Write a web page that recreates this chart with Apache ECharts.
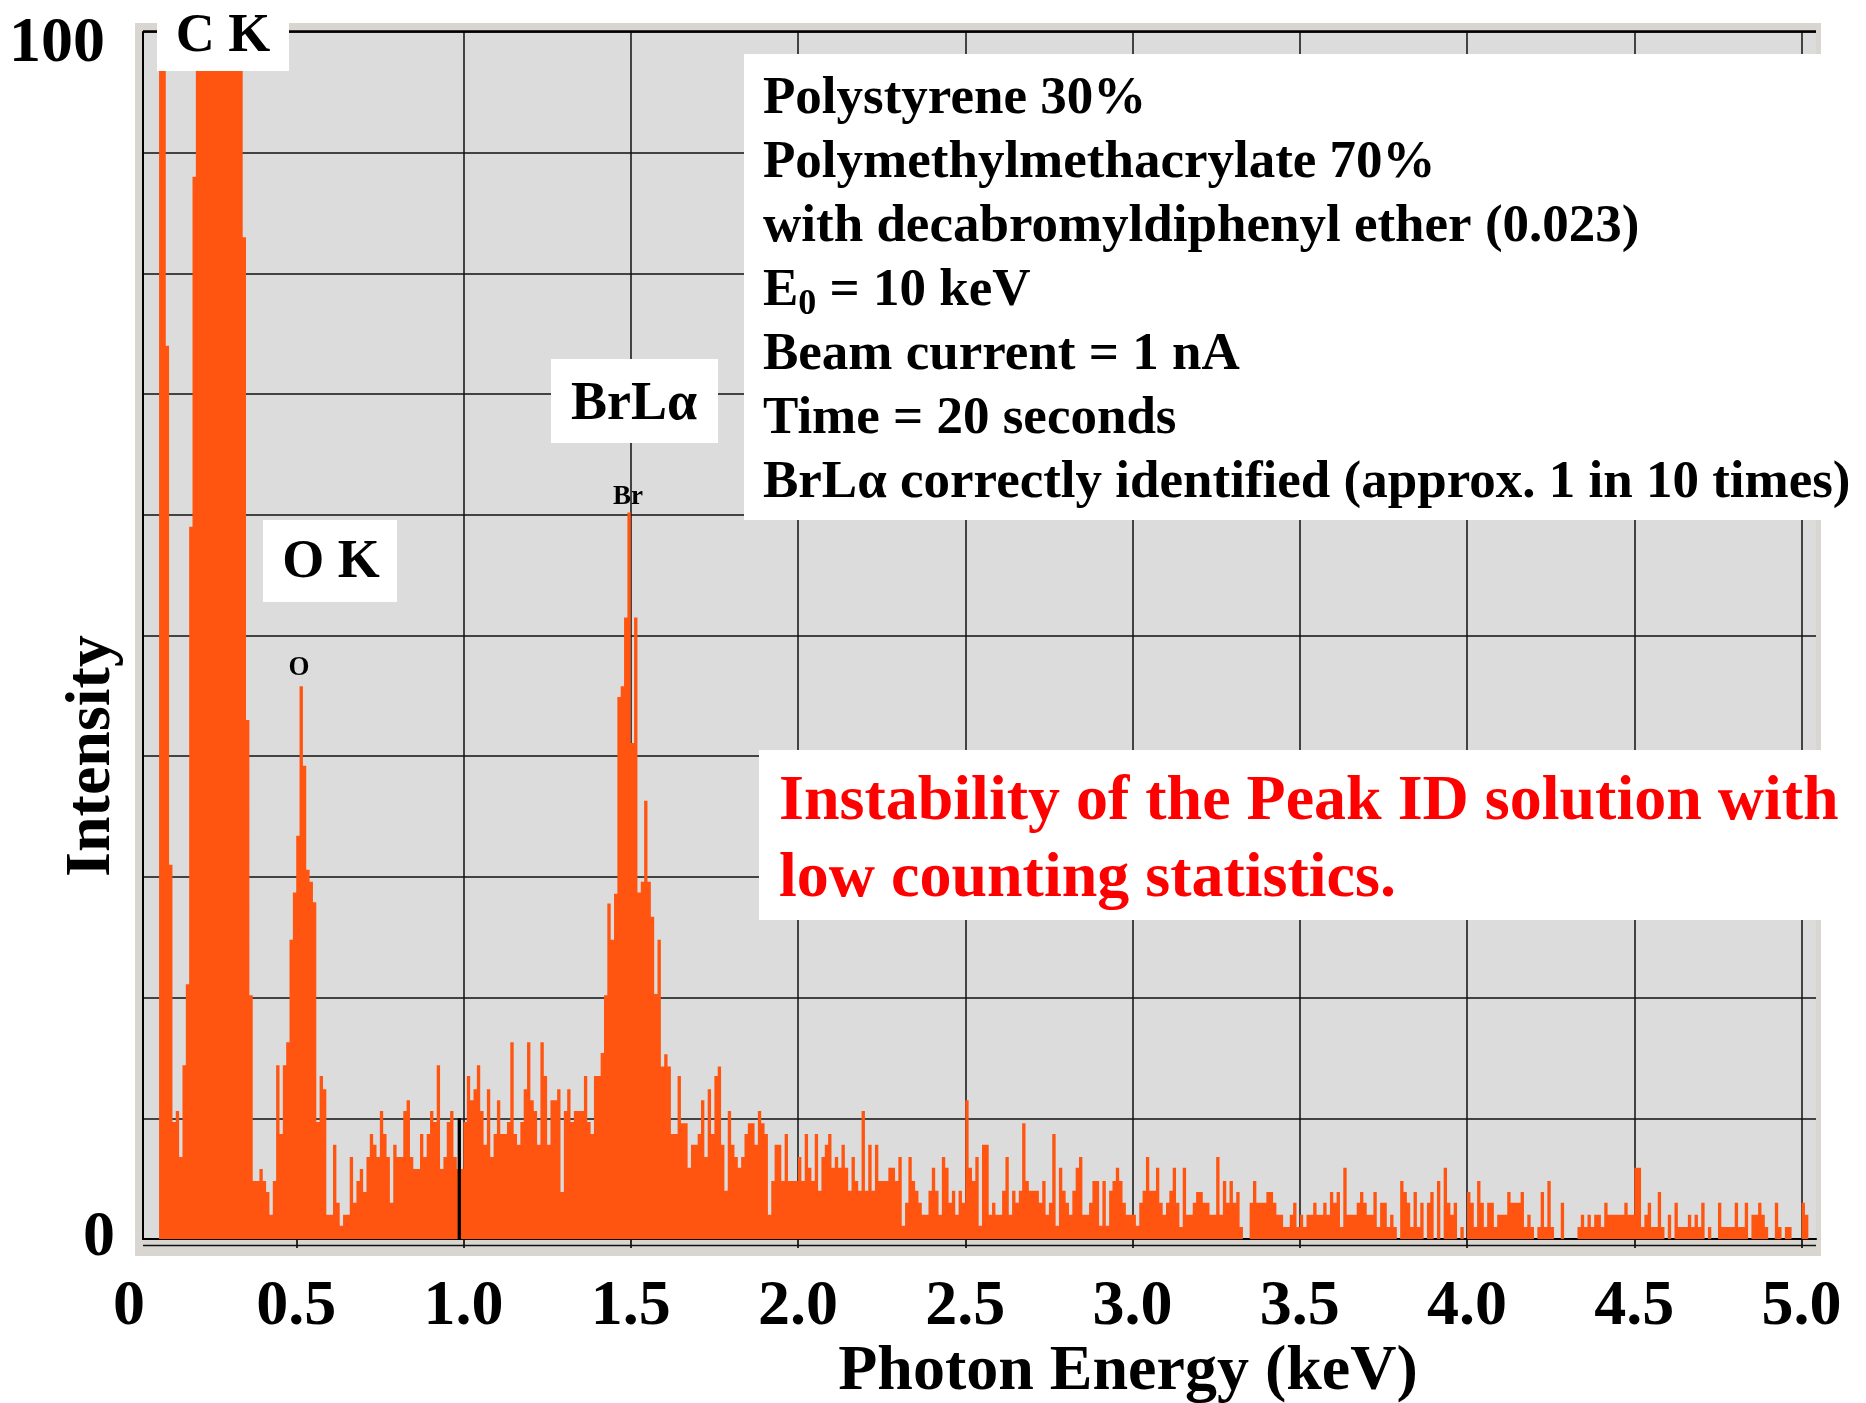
<!DOCTYPE html>
<html>
<head>
<meta charset="utf-8">
<title>EDS spectrum – PS/PMMA with decabromodiphenyl ether</title>
<script src="https://cdn.jsdelivr.net/npm/echarts@6/dist/echarts.min.js"></script>
<style>
  html, body { margin: 0; padding: 0; background: #ffffff; }
  #chart { width: 1866px; height: 1403px; }
</style>
</head>
<body>
<div id="chart"></div>
<script>
// Spectrum calibration (keV): start of the first channel and channel width
const channelStartKeV = 0.09;
const channelWidthKeV = 0.01;

// Intensity per channel (full scale = 100)
const intensity0to1keV = [
  120, 120, 74, 31, 9.7, 10.6, 6.8, 14.4, 21.1, 59,
  88, 118, 160, 220, 290, 360, 420, 455, 460, 430,
  380, 310, 240, 175, 125, 83, 43, 20.2, 4.8, 4.8,
  5.8, 4.8, 3.9, 2.0, 4.8, 14.4, 8.7, 14.4, 16.3, 24.8,
  28.7, 33.4, 45.8, 39.2, 30.6, 29.6, 27.9, 9.7, 13.5, 12.4,
  2.0, 2.0, 7.8, 3.0, 1.1, 2.0, 2.0, 6.8, 3.0, 4.8,
  5.8, 3.9, 6.8, 8.7, 7.8, 6.8, 10.6, 8.7, 6.8, 3.0,
  7.8, 6.8, 6.8, 10.6, 11.5, 6.8, 5.8, 5.8, 8.7, 6.8,
  8.7, 10.6, 9.7, 14.4, 5.8, 6.8, 9.7, 10.6, 6.8, 5.8,
  5.8, 9.7, 13.5, 11.5, 12.4, 14.4, 10.6, 7.8, 12.4, 6.8
];
const intensity1to2keV = [
  8.7, 11.5, 8.7, 8.7, 9.7, 16.3, 8.7, 7.8, 9.7, 12.4,
  16.3, 11.5, 10.6, 7.8, 16.3, 13.5, 7.8, 11.5, 11.5, 12.4,
  3.9, 10.6, 12.4, 9.7, 10.6, 10.6, 10.6, 13.5, 9.7, 8.7,
  13.5, 13.5, 15.4, 20.2, 27.8, 24.8, 28.6, 44.9, 45.8, 51.5,
  60.2, 41.1, 51.5, 28.7, 29.6, 36.3, 29.6, 26.7, 20.3, 24.8,
  14.3, 15.3, 14.3, 8.7, 8.7, 13.5, 9.6, 9.6, 5.9, 7.8,
  7.8, 8.7, 11.5, 6.8, 12.4, 8.7, 13.5, 14.3, 7.8, 4.0,
  10.6, 7.8, 6.8, 5.9, 6.8, 8.7, 9.6, 9.6, 7.8, 10.6,
  9.6, 8.7, 2.0, 4.8, 7.8, 7.8, 4.8, 8.7, 4.8, 4.8,
  4.8, 6.8, 4.8, 8.7, 5.9, 4.8, 8.7, 4.0, 6.8, 7.8
];
const intensity2to3keV = [
  8.7, 5.9, 6.8, 5.9, 7.8, 5.9, 4.0, 6.8, 4.8, 4.0,
  10.6, 4.0, 7.8, 4.0, 7.8, 4.8, 4.8, 4.8, 5.9, 5.9,
  4.8, 6.8, 1.1, 3.0, 6.8, 4.8, 4.0, 3.0, 2.0, 2.0,
  4.0, 5.9, 4.0, 2.0, 6.8, 5.9, 3.0, 4.0, 2.0, 4.0,
  3.0, 11.5, 5.9, 4.8, 6.8, 1.1, 7.8, 7.8, 2.0, 3.0,
  2.0, 2.0, 4.0, 6.8, 2.0, 4.0, 3.0, 4.0, 9.6, 4.8,
  4.0, 4.0, 4.0, 3.0, 4.8, 2.0, 3.0, 8.7, 1.1, 5.9,
  4.0, 3.0, 2.0, 4.0, 5.9, 6.8, 2.0, 2.0, 3.0, 4.8,
  4.8, 1.1, 4.8, 1.1, 4.0, 4.8, 5.9, 4.8, 3.0, 2.0,
  2.0, 2.0, 1.1, 3.0, 4.0, 6.8, 4.0, 4.0, 5.9, 3.0
];
const intensity3to4keV = [
  2.0, 3.0, 4.0, 5.9, 3.0, 1.0, 5.9, 2.0, 2.0, 3.0,
  3.9, 3.9, 3.0, 3.0, 2.0, 2.0, 6.8, 2.0, 4.8, 3.0,
  4.8, 3.0, 3.9, 1.0, 0, 0, 3.0, 4.8, 3.0, 3.0,
  3.0, 3.9, 3.9, 3.0, 2.0, 2.0, 1.0, 1.0, 2.0, 3.0,
  1.0, 2.0, 1.0, 2.0, 2.0, 3.0, 2.0, 2.0, 3.0, 2.0,
  3.9, 3.0, 3.9, 1.0, 5.9, 2.0, 2.0, 2.0, 3.0, 3.9,
  3.0, 2.0, 2.0, 3.9, 1.0, 3.0, 3.0, 1.0, 2.0, 1.0,
  0, 4.8, 3.9, 3.0, 1.0, 3.9, 1.0, 3.0, 0, 3.0,
  3.9, 0, 4.8, 0, 5.9, 3.0, 2.0, 3.0, 0, 1.0,
  0, 3.9, 3.0, 1.0, 4.8, 3.0, 1.0, 3.0, 3.0, 1.0
];
const intensity4to5keV = [
  2.0, 2.0, 2.0, 3.9, 3.0, 3.0, 3.0, 3.9, 1.0, 2.0,
  1.0, 0, 1.0, 3.9, 1.0, 4.8, 1.0, 0, 0, 3.0,
  0, 0, 0, 0, 1.0, 2.0, 1.0, 2.0, 1.0, 2.0,
  2.0, 1.0, 3.0, 2.0, 2.0, 2.0, 2.0, 2.0, 3.0, 2.0,
  2.0, 5.9, 5.9, 1.0, 2.0, 3.0, 1.0, 1.0, 3.9, 1.0,
  0, 2.0, 0, 3.0, 1.0, 1.0, 1.0, 2.0, 1.0, 2.0,
  1.0, 3.0, 0, 1.0, 0, 0, 3.0, 1.0, 1.0, 1.0,
  1.0, 3.0, 1.0, 1.0, 3.0, 0, 2.0, 2.0, 3.0, 2.0,
  1.0, 0, 0, 3.0, 1.0, 0, 1.0, 1.0, 0, 0,
  0, 3.0, 2.0, 0
];

// Energy axis tick values and their printed labels
const energyTickValues = [0, 0.5, 1.0, 1.5, 2.0, 2.5, 3.0, 3.5, 4.0, 4.5, 5.0];
const energyTickLabels = ['0', '0.5', '1.0', '1.5', '2.0', '2.5', '3.0', '3.5', '4.0', '4.5', '5.0'];
// Intensity axis labels
const intensityTickValues = [0, 100];
const intensityTickLabels = ['0', '100'];

// Cursor marker near 1 keV (energy, height)
const cursorKeV = 0.9875;
const cursorHeight = [0, 10];

// Peak identification marks placed by the software
const peakMarkLabels = ['O', 'Br'];
const peakMarkKeV = [0.508, 1.492];
const peakMarkIntensity = [47.3, 61.5];

const counts = [].concat(intensity0to1keV, intensity1to2keV, intensity2to3keV,
                         intensity3to4keV, intensity4to5keV);
const spectrum = counts.map((v, i) => [
  Math.round((channelStartKeV + i * channelWidthKeV) * 1000) / 1000, v
]);

const SERIF = '"Liberation Serif", "Times New Roman", Times, serif';
const ORANGE = '#ff5510';
const FRAME = '#d9d6d1';

function boxLabel(x, y, w, h, text, cx, cy, size, color) {
  return [
    { type: 'rect', z: 100, shape: { x: x, y: y, width: w, height: h }, style: { fill: '#ffffff' } },
    { type: 'text', z: 101, x: cx, y: cy,
      style: { text: text, fill: color || '#000000', fontSize: size, fontWeight: 'bold',
               fontFamily: SERIF, align: 'center', verticalAlign: 'middle' } }
  ];
}
function lineText(x, y, text, size, color, rich) {
  return { type: 'text', z: 101, x: x, y: y,
    style: { text: text, fill: color, fontSize: size, fontWeight: 'bold', fontFamily: SERIF,
             align: 'left', verticalAlign: 'middle', rich: rich } };
}

const chart = echarts.init(document.getElementById('chart'), null, { renderer: 'canvas' });

const infoLines = [
  'Polystyrene 30%',
  'Polymethylmethacrylate 70%',
  'with decabromyldiphenyl ether (0.023)',
  'E{sub|0}{n| = 10 keV}',
  'Beam current = 1 nA',
  'Time = 20 seconds',
  'BrL\u03b1 correctly identified (approx. 1 in 10 times)'
];
const infoRich = {
  n: { fontSize: 53, fontWeight: 'bold', fontFamily: SERIF, fill: '#000' },
  sub: { fontSize: 36, fontWeight: 'bold', fontFamily: SERIF, fill: '#000', padding: [26, 0, 0, 0] }
};

const graphics = [
  // panel border around the plotting area
  { type: 'rect', z: -1, shape: { x: 135, y: 23, width: 8, height: 1233 }, style: { fill: FRAME } },
  { type: 'rect', z: -1, shape: { x: 135, y: 23, width: 1686, height: 9 }, style: { fill: FRAME } },
  { type: 'rect', z: -1, shape: { x: 1816, y: 23, width: 5, height: 1233 }, style: { fill: FRAME } },
  { type: 'rect', z: -1, shape: { x: 135, y: 1240, width: 1686, height: 16 }, style: { fill: FRAME } },
  { type: 'line', z: 5, shape: { x1: 143, y1: 1245.5, x2: 1816, y2: 1245.5 }, style: { stroke: '#111', lineWidth: 1.6 } },
  { type: 'line', z: 5, shape: { x1: 143, y1: 31.5, x2: 1816, y2: 31.5 }, style: { stroke: '#000', lineWidth: 2.6 } }
];
graphics.push(...boxLabel(157, 0, 132, 71, 'C K', 223, 37, 54));
graphics.push(...boxLabel(263, 520, 134, 82, 'O K', 331, 563, 54));
graphics.push(...boxLabel(551, 359, 167, 84, 'BrL\u03b1', 634, 405, 54));
graphics.push({ type: 'rect', z: 100, shape: { x: 744, y: 54, width: 1122, height: 466 }, style: { fill: '#ffffff' } });
infoLines.forEach((t, i) => {
  graphics.push(lineText(763, 99 + i * 64.1, t, 53, '#000000', infoRich));
});
graphics.push({ type: 'rect', z: 100, shape: { x: 759, y: 750, width: 1107, height: 170 }, style: { fill: '#ffffff' } });
graphics.push(lineText(779, 802, 'Instability of the Peak ID solution with', 64, '#ff0000'));
graphics.push(lineText(779, 879, 'low counting statistics.', 64, '#ff0000'));
// axis titles
graphics.push({ type: 'text', z: 101, x: 1128, y: 1372,
  style: { text: 'Photon Energy (keV)', fill: '#000', fontSize: 64, fontWeight: 'bold', fontFamily: SERIF,
           align: 'center', verticalAlign: 'middle' } });
graphics.push({ type: 'text', z: 101, x: 92, y: 756, rotation: Math.PI / 2,
  style: { text: 'Intensity', fill: '#000', fontSize: 64, fontWeight: 'bold', fontFamily: SERIF,
           align: 'center', verticalAlign: 'middle' } });

const option = {
  animation: false,
  backgroundColor: '#ffffff',
  grid: [
    { left: 143, top: 32, width: 1673, height: 1207, show: true, backgroundColor: '#dcdcdc', borderWidth: 0 },
    { left: 129, top: 32, width: 1672.5, height: 1207, show: false }
  ],
  xAxis: [
    {
      gridIndex: 0, type: 'value', min: 0.042, max: 5.043,
      axisLine: { show: true, onZero: false, lineStyle: { color: '#000', width: 2.2 } },
      axisTick: { show: false }, axisLabel: { show: false }, splitLine: { show: false }
    },
    {
      gridIndex: 1, type: 'value', min: 0, max: 5, interval: 0.5,
      axisLine: { show: false },
      axisTick: { show: true, customValues: energyTickValues.slice(1), length: 9,
                  lineStyle: { color: '#000', width: 1.6 } },
      axisLabel: {
        show: true, showMinLabel: true, showMaxLabel: true, margin: 36,
        fontSize: 64, fontWeight: 'bold', fontFamily: SERIF, color: '#000',
        formatter: function (v) {
          const i = energyTickValues.findIndex(t => Math.abs(t - v) < 1e-6);
          return i >= 0 ? energyTickLabels[i] : '';
        }
      },
      splitLine: { show: true, showMinLine: false, showMaxLine: true, lineStyle: { color: '#111', width: 1.5 } }
    }
  ],
  yAxis: [
    {
      gridIndex: 0, type: 'value', min: 0, max: 100, interval: 10,
      axisLine: { show: true, lineStyle: { color: '#000', width: 2 } },
      axisTick: { show: false },
      splitLine: { show: true, lineStyle: { color: '#111', width: 1.7 } },
      axisLabel: {
        show: true, margin: 28,
        formatter: function (v) {
          const i = intensityTickValues.indexOf(v);
          if (i < 0) return '';
          return v === 0 ? '{bot|' + intensityTickLabels[i] + '}' : '{top|' + intensityTickLabels[i] + '}';
        },
        rich: {
          top: { fontSize: 64, fontWeight: 'bold', fontFamily: SERIF, color: '#000', padding: [25, 10, 0, 0] },
          bot: { fontSize: 64, fontWeight: 'bold', fontFamily: SERIF, color: '#000', padding: [0, 0, 1, 0] }
        }
      }
    },
    { gridIndex: 1, type: 'value', min: 0, max: 100, show: false }
  ],
  series: [
    {
      name: 'spectrum', type: 'line', xAxisIndex: 0, yAxisIndex: 0,
      data: spectrum, step: 'end', symbol: 'none', showSymbol: false,
      lineStyle: { width: 0 }, areaStyle: { color: ORANGE, opacity: 1 },
      clip: true, silent: true, z: 3,
      markPoint: {
        symbol: 'rect', symbolSize: 2, silent: true,
        itemStyle: { color: 'rgba(0,0,0,0)' },
        label: { show: true, position: 'inside', fontSize: 27, fontWeight: 'bold', fontFamily: SERIF,
                 color: '#000', formatter: p => p.name },
        data: peakMarkLabels.map((name, i) => ({
          name: name, coord: [peakMarkKeV[i], peakMarkIntensity[i]], value: peakMarkIntensity[i]
        }))
      }
    },
    {
      name: 'cursor', type: 'line', xAxisIndex: 0, yAxisIndex: 0,
      data: cursorHeight.map(h => [cursorKeV, h]), symbol: 'none', silent: true,
      lineStyle: { color: '#000', width: 3.3 }, z: 4
    }
  ],
  graphic: graphics
};
chart.setOption(option);
</script>
</body>
</html>
